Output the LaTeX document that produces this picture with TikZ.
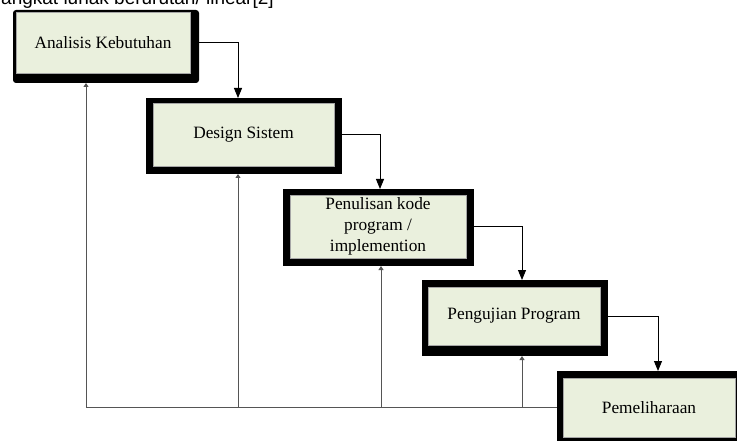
\documentclass[tikz,border=0pt]{standalone}
\usepackage{fontspec}
\setmainfont{Liberation Serif}
\newfontfamily\capfont{Liberation Sans}
\usetikzlibrary{arrows.meta}
\definecolor{boxgreen}{HTML}{EAF0DD}
\definecolor{fbgray}{HTML}{555555}
\pgfdeclarelayer{bg}
\pgfsetlayers{bg,main}
\begin{document}
\begin{tikzpicture}[x=1pt,y=-1pt,
  outerbox/.style={rectangle, fill=black, inner sep=0pt, outer sep=0pt},
  innerbox/.style={rectangle, fill=boxgreen, draw=gray!70, line width=0.5pt, inner sep=0pt,
    align=center, font=\fontsize{17.3}{21}\selectfont},
  arr/.style={line width=0.9pt, -{Triangle[length=10pt,width=8pt]}},
  uparr/.style={line width=0.9pt, color=fbgray, -{Triangle[length=4pt,width=5pt]}},
  fbline/.style={line width=0.9pt, color=fbgray}]
\useasboundingbox (0,0) rectangle (737,441);
% caption (cut off at top)
\node[anchor=base west, inner sep=0pt, font=\capfont\fontsize{19}{22}\selectfont] (cap) at (1,5) {angkat lunak berurutan/ linear[2]};
% boxes
\node[outerbox, rounded corners=3pt, minimum width=186pt, minimum height=73pt] (a) at (106,46.5) {};
\node[innerbox, minimum width=174pt, minimum height=61pt] (a-in) at (103,42.5) {Analisis Kebutuhan};
\node[outerbox, minimum width=196pt, minimum height=76pt] (b) at (244,136) {};
\node[innerbox, minimum width=181pt, minimum height=63pt] (b-in) at (243.5,134.5) {Design Sistem};
\node[outerbox, minimum width=191pt, minimum height=77pt] (c) at (378.5,227.5) {};
\node[innerbox, minimum width=176pt, minimum height=63pt] (c-in) at (378,226.5) {Penulisan kode\\program /\\implemention};
\node[outerbox, minimum width=186pt, minimum height=76pt] (d) at (515,318) {};
\node[innerbox, minimum width=172pt, minimum height=58pt] (d-in) at (514,316) {Pengujian Program};
\node[outerbox, minimum width=188pt, minimum height=77pt] (e) at (651,409.5) {};
\node[innerbox, minimum width=172pt, minimum height=59pt] (e-in) at (649,407.5) {Pemeliharaan};
% connectors
\begin{pgfonlayer}{bg}
\fill[white] (0,0) rectangle (737,441);
\draw[arr] (a-in.center -| a.east) -| (238,0 |- b.north);
\draw[arr] (b-in.center -| b.east) -| (380,0 |- c.north);
\draw[arr] (c-in.center -| c.east) -| (522,0 |- d.north);
\draw[arr] (d-in.center -| d.east) -| (658,0 |- e.north);
\coordinate (fb) at (86,407);
\coordinate (j2) at (238,407);
\coordinate (j3) at (381,407);
\coordinate (j4) at (522,407);
\draw[fbline] (e.west |- fb) -- (fb);
\draw[uparr] (fb) -- (fb |- a.south);
\draw[uparr] (j2) -- (j2 |- b.south);
\draw[uparr] (j3) -- (j3 |- c.south);
\draw[uparr] (j4) -- (j4 |- d.south);
\end{pgfonlayer}
\end{tikzpicture}
\end{document}
